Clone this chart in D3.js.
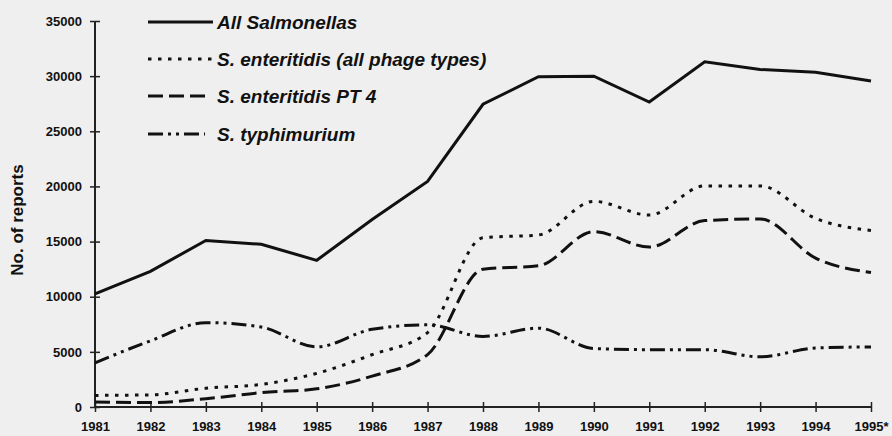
<!DOCTYPE html>
<html><head><meta charset="utf-8">
<script src="https://cdn.jsdelivr.net/npm/d3@7"></script>
<style>body{margin:0;background:#efefef}svg{display:block}text{font-family:"Liberation Sans",Arial,sans-serif;fill:#111}</style>
</head><body><svg id="c" width="892" height="436"></svg>
<script>
const years = [1981,1982,1983,1984,1985,1986,1987,1988,1989,1990,1991,1992,1993,1994,1995];
const yearLabels = ["1981","1982","1983","1984","1985","1986","1987","1988","1989","1990","1991","1992","1993","1994","1995*"];
const allSalmonellas = [10250,12300,15100,14750,13300,17000,20450,27450,29950,30000,27650,31300,30600,30350,29550];
const enteritidisAll = [1050,1100,1700,2050,3050,4750,6750,15350,15600,18650,17400,20050,20050,17100,16000];
const enteritidisPT4 = [450,400,750,1300,1650,2800,4750,12500,12800,15900,14500,16900,17050,13500,12200];
const typhimurium = [4000,6000,7650,7250,5450,7050,7450,6400,7150,5300,5200,5200,4550,5350,5450];
const yTicks = [0,5000,10000,15000,20000,25000,30000,35000];
const seriesNames = ["All Salmonellas","S. enteritidis (all phage types)","S. enteritidis PT 4","S. typhimurium"];

const svg = d3.select("#c");
const x = d3.scaleLinear().domain([1981,1995]).range([95,871]);
const y = d3.scaleLinear().domain([0,35000]).range([407,21]);

const yAxis = svg.append("g").attr("transform","translate(95,0)")
  .call(d3.axisLeft(y).tickValues(yTicks).tickSize(5).tickPadding(8).tickFormat(d3.format("d")));
yAxis.selectAll(".tick line").attr("x1",5).attr("x2",-5);
const xAxis = svg.append("g").attr("transform","translate(0,407)")
  .call(d3.axisBottom(x).tickValues(years).tickSize(5).tickPadding(10).tickFormat((d,i)=>yearLabels[i]));
xAxis.selectAll(".tick line").attr("y1",-5).attr("y2",5);
[yAxis,xAxis].forEach(a=>{
  a.select(".domain").attr("stroke","#222").attr("stroke-width",2);
  a.selectAll(".tick line").attr("stroke","#222").attr("stroke-width",1.5);
  a.selectAll("text").style("font-weight","bold").style("font-size","13px").attr("fill","#111");
});
yAxis.select(".domain").attr("d","M0,21V407");
xAxis.select(".domain").attr("d","M95,0H871");
xAxis.selectAll(".tick text").attr("dy","0.71em").attr("y",15);

svg.append("text").attr("transform","translate(23,220) rotate(-90)")
  .attr("text-anchor","middle").style("font-weight","bold").style("font-size","17px").text("No. of reports");

const styles = [
  {data: allSalmonellas, dash: null, curve: d3.curveLinear},
  {data: enteritidisAll, dash: "3.5,6.5", curve: d3.curveMonotoneX},
  {data: enteritidisPT4, dash: "15,6", curve: d3.curveMonotoneX},
  {data: typhimurium, dash: "15,5,3,5,3,5", curve: d3.curveMonotoneX}
];
styles.forEach(s=>{
  const line = d3.line().x((d,i)=>x(years[i])).y(d=>y(d)).curve(s.curve);
  svg.append("path").attr("d",line(s.data)).attr("fill","none").attr("stroke","#111")
    .attr("stroke-width",3).attr("stroke-dasharray",s.dash);
});

const legY = [22,59,96,134];
const legEnd = [213,213,205,205];
styles.forEach((s,i)=>{
  svg.append("line").attr("x1",148).attr("x2",legEnd[i]).attr("y1",legY[i]).attr("y2",legY[i])
    .attr("stroke","#111").attr("stroke-width",3).attr("stroke-dasharray",s.dash);
  svg.append("text").attr("x",217).attr("y",legY[i]).attr("dy","0.35em")
    .style("font-weight","bold").style("font-style","italic").style("font-size","19px").text(seriesNames[i]);
});
</script></body></html>
